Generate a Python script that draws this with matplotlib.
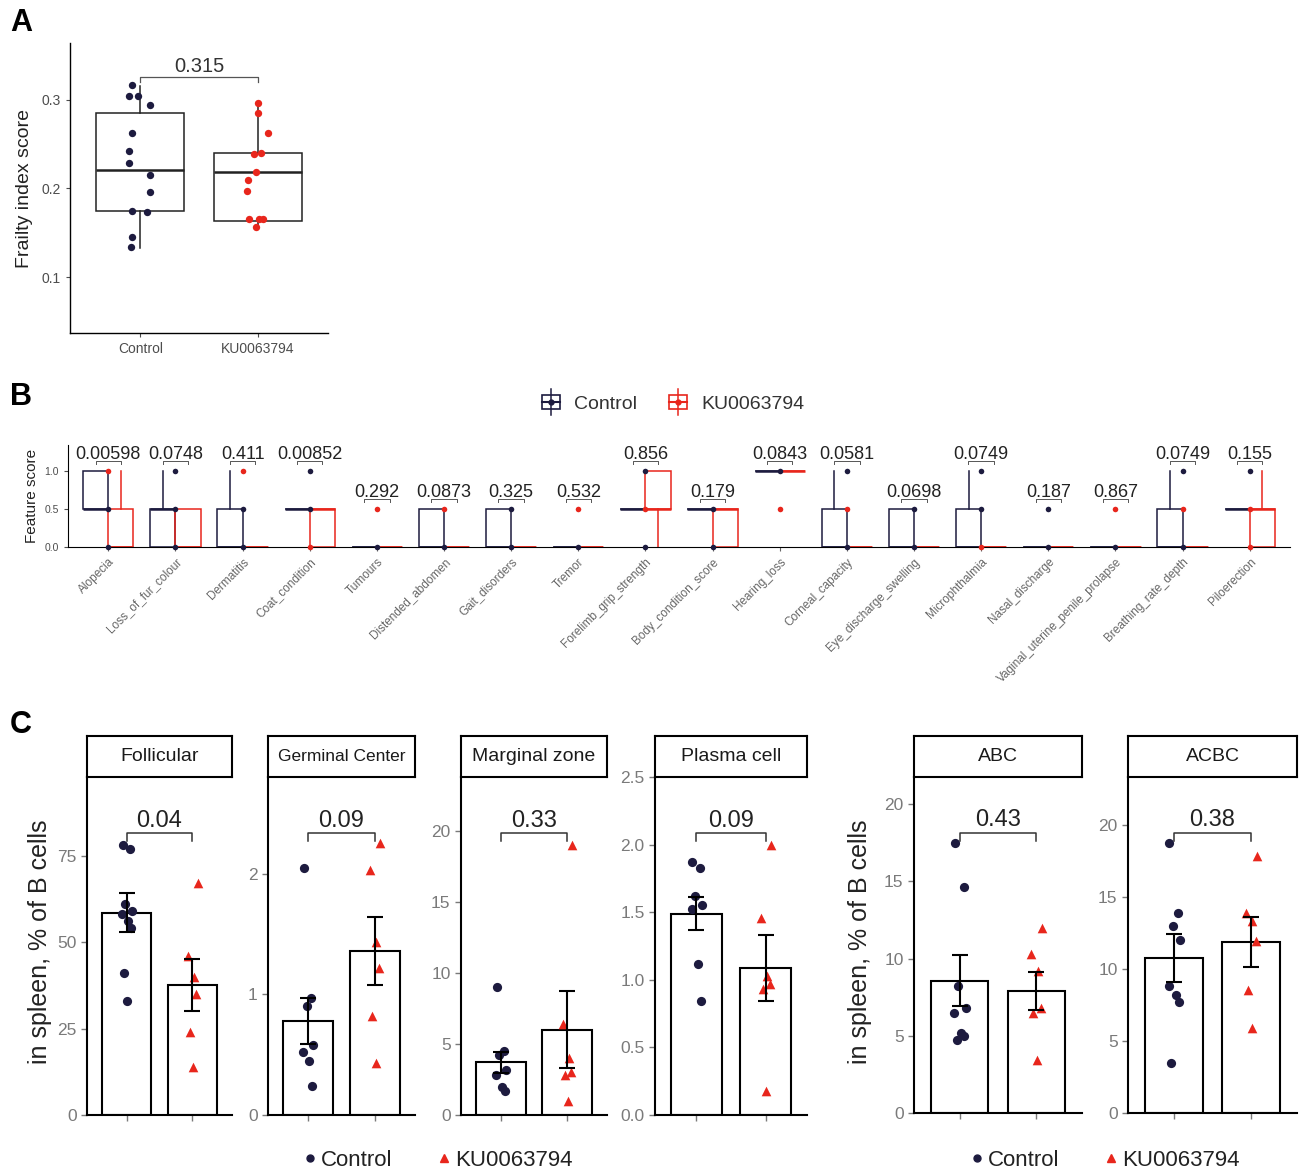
import matplotlib
matplotlib.use("Agg")
import matplotlib.pyplot as plt
from matplotlib.lines import Line2D
from matplotlib.patches import Rectangle
from matplotlib.legend_handler import HandlerBase
import matplotlib.transforms as mtransforms

plt.rcParams['font.family'] = ['Liberation Sans', 'DejaVu Sans']

W, H = 1301, 1174
CTRL = "#1d1b3f"
KU = "#e8261c"
GRAY = "#4d4d4d"
LGRAY = "#7a7a7a"

# ------------------------- Panel A data -------------------------
groups_A = ["Control", "KU0063794"]
frailty_control = [0.317, 0.304, 0.304, 0.294, 0.263, 0.242, 0.229, 0.215, 0.196,
                   0.175, 0.173, 0.145, 0.134]
frailty_ku = [0.296, 0.285, 0.262, 0.239, 0.240, 0.218, 0.210, 0.197, 0.166,
              0.165, 0.156, 0.165]
jitter_A_control = [-0.07, -0.10, -0.02, 0.08, -0.07, -0.10, -0.10, 0.08, 0.08,
                    -0.07, 0.06, -0.07, -0.08]
jitter_A_ku = [0.0, 0.0, 0.09, -0.03, 0.03, -0.01, -0.08, -0.09, -0.07, 0.01, -0.01, 0.05]
# whislo, q1, median, q3, whishi
box_A_control = [0.133, 0.175, 0.221, 0.285, 0.315]
box_A_ku = [0.155, 0.163, 0.218, 0.240, 0.295]
pval_A = "0.315"

# ------------------------- Panel B data -------------------------
features_B = ["Alopecia", "Loss_of_fur_colour", "Dermatitis", "Coat_condition", "Tumours",
              "Distended_abdomen", "Gait_disorders", "Tremor", "Forelimb_grip_strength",
              "Body_condition_score", "Hearing_loss", "Corneal_capacity",
              "Eye_discharge_swelling", "Microphthalmia", "Nasal_discharge",
              "Vaginal_uterine_penile_prolapse", "Breathing_rate_depth", "Piloerection"]
box_B_control = [[0.5, 0.5, 0.5, 1, 1], [0, 0, 0.5, 0.5, 1], [0, 0, 0, 0.5, 1],
                 [0.5, 0.5, 0.5, 0.5, 0.5], [0, 0, 0, 0, 0], [0, 0, 0, 0.5, 0.5],
                 [0, 0, 0, 0.5, 0.5], [0, 0, 0, 0, 0], [0.5, 0.5, 0.5, 0.5, 0.5],
                 [0.5, 0.5, 0.5, 0.5, 0.5], [1, 1, 1, 1, 1], [0, 0, 0, 0.5, 1],
                 [0, 0, 0, 0.5, 0.5], [0, 0, 0, 0.5, 1], [0, 0, 0, 0, 0],
                 [0, 0, 0, 0, 0], [0, 0, 0, 0.5, 1], [0.5, 0.5, 0.5, 0.5, 0.5]]
box_B_ku = [[0, 0, 0, 0.5, 1], [0, 0, 0, 0.5, 0.5], [0, 0, 0, 0, 0],
            [0, 0, 0.5, 0.5, 0.5], [0, 0, 0, 0, 0], [0, 0, 0, 0, 0],
            [0, 0, 0, 0, 0], [0, 0, 0, 0, 0], [0, 0.5, 0.5, 1, 1],
            [0, 0, 0.5, 0.5, 0.5], [1, 1, 1, 1, 1], [0, 0, 0, 0, 0],
            [0, 0, 0, 0, 0], [0, 0, 0, 0, 0], [0, 0, 0, 0, 0],
            [0, 0, 0, 0, 0], [0, 0, 0, 0, 0], [0, 0, 0.5, 0.5, 1]]
points_B_control = [[0.5, 0], [1, 0.5, 0], [0.5, 0], [1, 0.5], [0], [0], [0.5, 0], [0],
                    [1, 0], [0.5, 0], [1], [1, 0], [0.5, 0], [1, 0.5], [0.5, 0], [0],
                    [1, 0], [1]]
points_B_ku = [[1], [], [1], [0], [0.5], [0.5], [], [0.5], [0.5], [], [0.5], [0.5], [],
               [0], [], [0.5], [0.5], [0.5, 0]]
pvals_B = ["0.00598", "0.0748", "0.411", "0.00852", "0.292", "0.0873", "0.325", "0.532",
           "0.856", "0.179", "0.0843", "0.0581", "0.0698", "0.0749", "0.187", "0.867",
           "0.0749", "0.155"]

# ------------------------- Panel C data -------------------------
cells_C = ["Follicular", "Germinal Center", "Marginal zone", "Plasma cell", "ABC", "ACBC"]
pts_C_control = [
    [78, 77, 61, 59, 58, 56, 54, 41, 33],
    [2.05, 0.97, 0.90, 0.58, 0.52, 0.45, 0.24],
    [9.0, 4.5, 4.2, 3.2, 2.8, 2.0, 1.7],
    [1.87, 1.83, 1.62, 1.55, 1.52, 1.12, 0.84],
    [17.5, 14.6, 8.2, 6.8, 6.5, 5.2, 5.0, 4.7],
    [18.7, 13.9, 13.0, 12.0, 8.8, 8.2, 7.7, 3.5],
]
pts_C_ku = [
    [67, 46, 40, 35, 24, 14],
    [2.25, 2.03, 1.43, 1.22, 0.82, 0.43],
    [19.0, 6.4, 4.0, 3.0, 2.8, 1.0],
    [2.0, 1.46, 1.03, 0.97, 0.93, 0.18],
    [12.0, 10.3, 9.2, 6.8, 6.5, 3.4],
    [17.8, 13.9, 13.3, 11.9, 8.5, 5.9],
]
mean_C_control = [58.5, 0.78, 3.7, 1.49, 8.55, 10.74]
sem_C_control = [5.6, 0.19, 0.75, 0.125, 1.65, 1.65]
mean_C_ku = [37.5, 1.36, 6.0, 1.09, 7.9, 11.85]
sem_C_ku = [7.5, 0.28, 2.7, 0.245, 1.25, 1.75]
pvals_C = ["0.04", "0.09", "0.33", "0.09", "0.43", "0.38"]
ylim_C = [97.7, 2.8, 23.8, 2.5, 21.75, 23.3]
yticks_C = [[0, 25, 50, 75], [0, 1, 2], [0, 5, 10, 15, 20],
            [0.0, 0.5, 1.0, 1.5, 2.0, 2.5], [0, 5, 10, 15, 20], [0, 5, 10, 15, 20]]
ytick_fmt_C = ["{:g}", "{:g}", "{:g}", "{:.1f}", "{:g}", "{:g}"]
jitter_pattern = [-0.06, 0.05, -0.02, 0.08, -0.07, 0.02, 0.06, -0.04, 0.01]


def rect(l, t, r, b):
    return [l / W, 1 - b / H, (r - l) / W, (b - t) / H]


fig = plt.figure(figsize=(W / 100, H / 100), dpi=100)

# ======================= Panel A =======================
axA = fig.add_axes(rect(70, 43, 328, 333))
for pos, st in zip([1, 2], [box_A_control, box_A_ku]):
    stats = [dict(whislo=st[0], q1=st[1], med=st[2], q3=st[3], whishi=st[4], fliers=[])]
    axA.bxp(stats, positions=[pos], widths=0.75, showfliers=False, showcaps=False,
            patch_artist=True,
            boxprops=dict(facecolor='white', edgecolor='#222222', linewidth=1.1),
            medianprops=dict(color='#222222', linewidth=1.8),
            whiskerprops=dict(color='#222222', linewidth=1.1))
axA.scatter([1 + j for j in jitter_A_control], frailty_control, s=28, color=CTRL, zorder=5,
            linewidths=0)
axA.scatter([2 + j for j in jitter_A_ku], frailty_ku, s=28, color=KU, zorder=5, linewidths=0)
axA.set_xlim(0.4, 2.6)
axA.set_ylim(0.037, 0.364)
axA.set_yticks([0.1, 0.2, 0.3])
axA.set_xticks([1, 2])
axA.set_xticklabels(groups_A)
axA.tick_params(colors=GRAY, labelsize=10, length=3, width=0.8)
for s in ['top', 'right']:
    axA.spines[s].set_visible(False)
for s in ['left', 'bottom']:
    axA.spines[s].set_linewidth(1.0)
axA.set_ylabel("Frailty index score", fontsize=14, color='#222222', labelpad=6)
axA.plot([1, 1, 2, 2], [0.320, 0.326, 0.326, 0.320], color='#555555', lw=0.9)
axA.text(1.5, 0.327, pval_A, ha='center', va='bottom', fontsize=14.5, color='#333333')

# ======================= Panel B =======================
axB = fig.add_axes(rect(68, 445, 1290, 547))
nB = len(features_B)
for i in range(nB):
    x = i + 1
    for off, st, col in [(-0.1875, box_B_control[i], CTRL), (0.1875, box_B_ku[i], KU)]:
        stats = [dict(whislo=st[0], q1=st[1], med=st[2], q3=st[3], whishi=st[4], fliers=[])]
        axB.bxp(stats, positions=[x + off], widths=0.375, showfliers=False, showcaps=False,
                patch_artist=True,
                boxprops=dict(facecolor='none', edgecolor=col, linewidth=1.1),
                medianprops=dict(color=col, linewidth=1.8),
                whiskerprops=dict(color=col, linewidth=1.1))
    if points_B_control[i]:
        axB.scatter([x] * len(points_B_control[i]), points_B_control[i], s=16, color=CTRL,
                    zorder=6, clip_on=False, linewidths=0)
    if points_B_ku[i]:
        axB.scatter([x] * len(points_B_ku[i]), points_B_ku[i], s=16, color=KU,
                    zorder=6, clip_on=False, linewidths=0)
    top = max(box_B_control[i] + box_B_ku[i] + points_B_control[i] + points_B_ku[i])
    yb = top + 0.13
    axB.plot([x - 0.19, x - 0.19, x + 0.19, x + 0.19], [yb - 0.04, yb, yb, yb - 0.04],
             color='#555555', lw=0.7, clip_on=False)
    axB.text(x, top + 0.21, pvals_B[i], ha='center', va='center', fontsize=13,
             color='#222222')
axB.set_xlim(0.4, nB + 0.6)
axB.set_ylim(0, 1.34)
axB.set_yticks([0.0, 0.5, 1.0])
axB.set_yticklabels(["0.0", "0.5", "1.0"])
axB.set_xticks(range(1, nB + 1))
axB.set_xticklabels(features_B, rotation=45, ha='right', va='top', rotation_mode='anchor')
axB.tick_params(colors=GRAY, labelsize=7.5, length=3, width=0.8)
axB.tick_params(axis='x', labelsize=8.5, colors='#666666')
for s in ['top', 'right']:
    axB.spines[s].set_visible(False)
axB.set_ylabel("Feature score", fontsize=11, color='#222222', labelpad=4)


class BoxKeyHandler(HandlerBase):
    def __init__(self, color):
        super().__init__()
        self.color = color

    def create_artists(self, legend, orig_handle, xdescent, ydescent, width, height,
                       fontsize, trans):
        c = self.color
        cx = -xdescent + width / 2
        cy = -ydescent + height / 2
        bw = width * 0.75
        bh = height * 0.8
        r = Rectangle((cx - bw / 2, cy - bh / 2), bw, bh, facecolor='white', edgecolor=c,
                      lw=1.2, transform=trans)
        v = Line2D([cx, cx], [cy - height * 0.75, cy + height * 0.75], color=c, lw=1.1,
                   transform=trans)
        h = Line2D([cx - bw / 2, cx + bw / 2], [cy, cy], color=c, lw=1.5, transform=trans)
        d = Line2D([cx], [cy], marker='o', color=c, markersize=3.5, lw=0, transform=trans)
        return [r, v, h, d]


hC = Line2D([], [])
hK = Line2D([], [])
fig.legend([hC, hK], ["Control", "KU0063794"],
           handler_map={hC: BoxKeyHandler(CTRL), hK: BoxKeyHandler(KU)},
           loc='center', bbox_to_anchor=(672 / W, 1 - 403 / H), ncol=2, frameon=False,
           fontsize=14, handlelength=1.2, handleheight=1.0, columnspacing=1.5,
           handletextpad=0.6, labelcolor='#333333')

# ======================= Panel C =======================
lefts = [87, 268, 461, 655, 914, 1128]
rights = [232, 415, 607, 807, 1082, 1297]
bottoms = [1115, 1115, 1115, 1115, 1113, 1113]
for k in range(len(cells_C)):
    ax = fig.add_axes(rect(lefts[k], 777, rights[k], bottoms[k]))
    ax.bar([1, 2], [mean_C_control[k], mean_C_ku[k]], width=0.75, facecolor='white',
           edgecolor='black', linewidth=1.5, zorder=2)
    pc = pts_C_control[k]
    pk = pts_C_ku[k]
    ax.scatter([1 + jitter_pattern[i % len(jitter_pattern)] for i in range(len(pc))], pc,
               s=44, marker='o', color=CTRL, zorder=3, linewidths=0)
    ax.scatter([2 + jitter_pattern[(i + 3) % len(jitter_pattern)] for i in range(len(pk))],
               pk, s=48, marker='^', color=KU, zorder=3, linewidths=0)
    ax.errorbar([1, 2], [mean_C_control[k], mean_C_ku[k]],
                yerr=[sem_C_control[k], sem_C_ku[k]], fmt='none', ecolor='black',
                elinewidth=1.5, capsize=6, capthick=1.5, zorder=4)
    ax.set_xlim(0.4, 2.6)
    ax.set_ylim(0, ylim_C[k])
    ax.set_yticks(yticks_C[k])
    ax.set_yticklabels([ytick_fmt_C[k].format(v) for v in yticks_C[k]])
    ax.set_xticks([1, 2])
    ax.set_xticklabels([])
    ax.tick_params(colors=LGRAY, labelsize=12.5, length=4, width=1.0)
    for s in ['top', 'right']:
        ax.spines[s].set_visible(False)
    for s in ['left', 'bottom']:
        ax.spines[s].set_linewidth(1.5)
    tr = mtransforms.blended_transform_factory(ax.transData, ax.transAxes)
    ax.plot([1, 1, 2, 2], [0.81, 0.834, 0.834, 0.81], color='#333333', lw=1.1, transform=tr)
    ax.text(1.5, 0.838, pvals_C[k], transform=tr, ha='center', va='bottom', fontsize=17,
            color='#222222')
    # strip
    sax = fig.add_axes(rect(lefts[k], 736, rights[k], 777))
    sax.set_xticks([])
    sax.set_yticks([])
    for s in sax.spines.values():
        s.set_linewidth(1.5)
    sax.text(0.5, 0.5, cells_C[k], ha='center', va='center',
             fontsize=(12.5 if len(cells_C[k]) > 13 else 14), color='#1a1a1a',
             transform=sax.transAxes)

fig.text(40 / W, 1 - 942 / H, "in spleen, % of B cells", rotation=90, ha='center',
         va='center', fontsize=18, color='#222222')
fig.text(860 / W, 1 - 942 / H, "in spleen, % of B cells", rotation=90, ha='center',
         va='center', fontsize=18, color='#222222')

for cx in [438, 1105]:
    hc = Line2D([], [], marker='o', color=CTRL, lw=0, markersize=5)
    hk = Line2D([], [], marker='^', color=KU, lw=0, markersize=6)
    fig.legend([hc, hk], ["Control", "KU0063794"], loc='center',
               bbox_to_anchor=(cx / W, 1 - 1160 / H), ncol=2, frameon=False, fontsize=16,
               handlelength=0.6, handletextpad=0.2, columnspacing=2.0,
               labelcolor='#222222')

# panel letters
fig.text(10 / W, 1 - 8 / H, "A", fontsize=22, fontweight='bold', va='top', ha='left')
fig.text(10 / W, 1 - 382 / H, "B", fontsize=22, fontweight='bold', va='top', ha='left')
fig.text(10 / W, 1 - 710 / H, "C", fontsize=22, fontweight='bold', va='top', ha='left')

fig.savefig("out.png", dpi=100, facecolor='white')
